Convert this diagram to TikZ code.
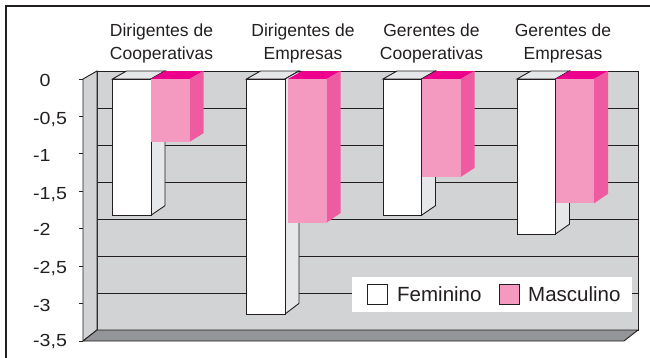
\documentclass[tikz,border=0pt]{standalone}
\usepackage{fontspec}
\setmainfont{Liberation Sans}
\newfontfamily\axfont{Liberation Sans}[FakeStretch=1.12]
\definecolor{ink}{HTML}{231F20}
\definecolor{wall}{HTML}{D1D3D4}
\definecolor{floorc}{HTML}{939598}
\definecolor{wside}{HTML}{E6E7E8}
\definecolor{pfront}{HTML}{F49AC1}
\definecolor{pside}{HTML}{EE5BA0}
\definecolor{ptop}{HTML}{EC008C}
\tikzset{
  edge/.style={draw=ink, line width=0.9pt, line join=miter},
  frameline/.style={draw=ink, line width=2.3pt},
  catlabel/.style={font=\fontsize{17.5}{23.5}\selectfont, text=ink, align=center, inner sep=0pt},
  axlabel/.style={font=\axfont\fontsize{17.5}{20}\selectfont, text=ink, anchor=base west, inner sep=0pt},
  leglabel/.style={font=\fontsize{20.5}{24}\selectfont, text=ink, anchor=base west, inner sep=0pt},
}
% bar: #1 left x (front), #2 value, #3 front, #4 side, #5 top, #6 outline style
\newcommand\cbar[6]{%
  \pgfmathsetmacro\yf{79-74.86*(#2)}%
  \pgfmathsetmacro\yb{71-74*(#2)}%
  \pgfmathsetmacro\xr{#1+38.5}%
  \pgfmathsetmacro\xbl{#1+14}%
  \pgfmathsetmacro\xbr{#1+38.5+14}%
  \path[#6, fill=#5] (#1,79) -- (\xbl,71) -- (\xbr,71) -- (\xr,79) -- cycle;
  \path[#6, fill=#4] (\xr,79) -- (\xbr,71) -- (\xbr,\yb) -- (\xr,\yf) -- cycle;
  \path[#6, fill=#3] (#1,79) rectangle (\xr,\yf);
}
\begin{document}
\begin{tikzpicture}[x=1pt, y=-1pt]
\useasboundingbox (0,0) rectangle (650,357);
% outer frame (top and left)
\path[frameline] (6,358) -- (6,6) -- (651,6);
% back wall
\filldraw[edge, fill=wall] (97,71) rectangle (638,330);
% gridlines
\foreach \k in {1,...,6} {
  \draw[edge] (97,{71+37*\k}) -- (638,{71+37*\k});
}
% left wall
\filldraw[edge, fill=wall] (83,79) -- (97,71) -- (97,330) -- (83,341) -- cycle;
% floor
\filldraw[edge, fill=floorc] (83,341) -- (97,330) -- (638,330) -- (624,341) -- cycle;
% ticks
\foreach \k in {0,...,7} {
  \draw[edge] (79,{79+37.43*\k}) -- (83,{79+37.43*\k});
}
% axis labels
\node[axlabel] (l0) at (33,86.7) {\phantom{-}0};
\node[axlabel] (l1) at (33,124.5) {-0,5};
\node[axlabel] (l2) at (33,161.7) {-1};
\node[axlabel] (l3) at (33,199) {-1,5};
\node[axlabel] (l4) at (33,235.7) {-2};
\node[axlabel] (l5) at (33,273) {-2,5};
\node[axlabel] (l6) at (33,311) {-3};
\node[axlabel] (l7) at (33,346.7) {-3,5};
% bars
\cbar{112.5}{-1.82}{white}{wside}{wside}{edge}
\cbar{151}{-0.84}{pfront}{pside}{ptop}{}
\cbar{246.5}{-3.14}{white}{wside}{wside}{edge}
\cbar{288}{-1.92}{pfront}{pside}{ptop}{}
\cbar{383}{-1.82}{white}{wside}{wside}{edge}
\cbar{422}{-1.31}{pfront}{pside}{ptop}{}
\cbar{517}{-2.07}{white}{wside}{wside}{edge}
\cbar{555.5}{-1.66}{pfront}{pside}{ptop}{}
% category labels
\node[catlabel, anchor=base] (c1) at (161.5,59.5) {Dirigentes de\\Cooperativas};
\node[catlabel, anchor=base] (c2) at (303,59.5) {Dirigentes de\\Empresas};
\node[catlabel, anchor=base] (c3) at (431.5,59.5) {Gerentes de\\Cooperativas};
\node[catlabel, anchor=base] (c4) at (563,59.5) {Gerentes de\\Empresas};
% legend
\fill[white] (352,277) rectangle (632,312);
\filldraw[edge, fill=white] (367,284) rectangle (387,304);
\node[leglabel] (lf) at (397,301) {Feminino};
\filldraw[edge, fill=pfront] (499,284) rectangle (519,304);
\node[leglabel] (lm) at (528,301) {Masculino};
\end{tikzpicture}
\end{document}
